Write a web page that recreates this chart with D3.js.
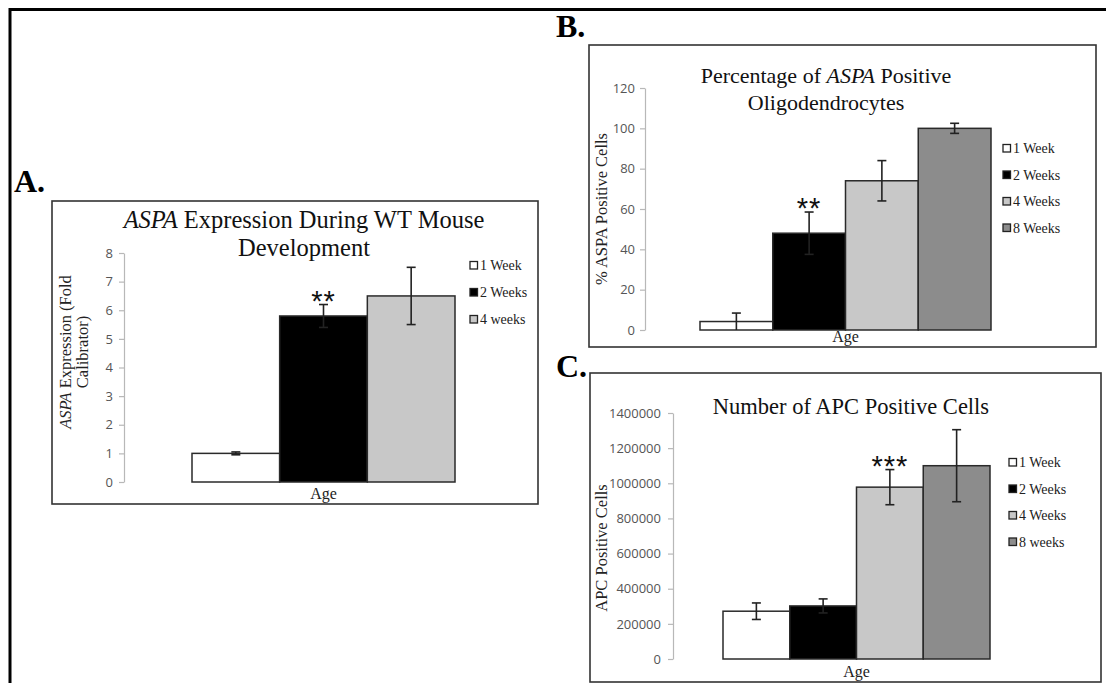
<!DOCTYPE html>
<html>
<head>
<meta charset="utf-8">
<script src="https://cdn.jsdelivr.net/npm/d3@7"></script>
<style>
  body { margin: 0; background: #fff; }
  svg text { font-family: "Liberation Serif", "Times New Roman", serif; }
</style>
</head>
<body>
<div id="my_dataviz"></div>
<script>
// ---- data ----
const weeksA = ["1 Week", "2 Weeks", "4 weeks"]
const valuesA = [1.0, 5.8, 6.5]
const errorsA = [0.05, 0.4, 1.0]
const ticksA = [0, 1, 2, 3, 4, 5, 6, 7, 8]

const weeksB = ["1 Week", "2 Weeks", "4 Weeks", "8 Weeks"]
const valuesB = [4.2, 48, 74, 100]
const errorsB = [4.2, 10.5, 10, 2.5]
const ticksB = [0, 20, 40, 60, 80, 100, 120]

const weeksC = ["1 Week", "2 Weeks", "4 Weeks", "8 weeks"]
const valuesC = [272000, 302000, 978000, 1100000]
const errorsC = [47000, 40000, 100000, 205000]
const ticksC = [0, 200000, 400000, 600000, 800000, 1000000, 1200000, 1400000]

const barFills = ["#ffffff", "#000000", "#c8c8c8", "#8c8c8c"]

const width = 1106, height = 683

const svg = d3.select("#my_dataviz")
  .append("svg")
  .attr("width", width)
  .attr("height", height)

// outer frame (top + left only)
svg.append("path")
  .attr("d", "M10,683 L10,9.5 L1106,9.5")
  .attr("fill", "none")
  .attr("stroke", "#000")
  .attr("stroke-width", 3)

const drawPanel = (p) => {
  // panel letter
  svg.append("text")
    .attr("x", p.letterX).attr("y", p.letterY)
    .attr("font-size", 32).attr("font-weight", "bold")
    .text(p.letter)

  // box
  svg.append("rect")
    .attr("x", p.box[0]).attr("y", p.box[1])
    .attr("width", p.box[2] - p.box[0]).attr("height", p.box[3] - p.box[1])
    .attr("fill", "#fff").attr("stroke", "#333").attr("stroke-width", 1.6)

  // title lines (array of arrays of [text, italic])
  p.title.forEach((line, i) => {
    const t = svg.append("text")
      .attr("x", p.titleX).attr("y", p.titleY + i * p.titleGap)
      .attr("text-anchor", "middle")
      .attr("font-size", p.titleSize)
      .attr("fill", "#111")
    line.forEach(([s, it]) => {
      t.append("tspan").attr("font-style", it ? "italic" : "normal").text(s)
    })
  })

  // scales
  const x = d3.scaleBand()
    .domain(p.weeks)
    .range(p.barRange)
    .padding(0)

  const y = d3.scaleLinear()
    .domain([0, d3.max(p.ticks)])
    .range(p.yRange)

  // y axis
  const ax = svg.append("g")
    .attr("transform", `translate(${p.axisX},0)`)
    .call(d3.axisLeft(y).tickValues(p.ticks).tickSize(5).tickSizeOuter(0).tickPadding(p.tickPad).tickFormat(d3.format("d")))
  ax.select(".domain").attr("stroke", "#b8b8b8").attr("stroke-width", 1.2)
  ax.selectAll(".tick line").attr("stroke", "#b8b8b8").attr("stroke-width", 1.2)
  ax.selectAll(".tick text")
    .attr("fill", "#555")
    .style("font-family", "'Open Sans', 'Liberation Sans', sans-serif")
    .style("font-size", p.tickSize + "px")

  // y axis title
  p.yTitle.forEach((line, i) => {
    const t = svg.append("text")
      .attr("transform", `translate(${p.yTitleX + i * 17},${p.yTitleY}) rotate(-90)`)
      .attr("text-anchor", "middle")
      .attr("font-size", 16.5)
      .attr("fill", "#222")
    line.forEach(([s, it]) => {
      t.append("tspan").attr("font-style", it ? "italic" : "normal").text(s)
    })
  })

  // bars
  svg.append("g").selectAll("rect")
    .data(p.values)
    .join("rect")
    .attr("x", (d, i) => x(p.weeks[i]))
    .attr("y", d => y(d))
    .attr("width", x.bandwidth())
    .attr("height", d => y(0) - y(d))
    .attr("fill", (d, i) => barFills[i])
    .attr("stroke", "#2a2a2a")
    .attr("stroke-width", 1.5)

  // error bars
  const eg = svg.append("g").attr("stroke", "#222").attr("stroke-width", 1.6)
  p.values.forEach((v, i) => {
    const cx = x(p.weeks[i]) + x.bandwidth() / 2
    const hi = y(v + p.errors[i]), lo = y(Math.max(0, v - p.errors[i]))
    eg.append("line").attr("x1", cx).attr("x2", cx).attr("y1", hi).attr("y2", lo)
    eg.append("line").attr("x1", cx - 4.5).attr("x2", cx + 4.5).attr("y1", hi).attr("y2", hi)
    if (v - p.errors[i] > 0)
      eg.append("line").attr("x1", cx - 4.5).attr("x2", cx + 4.5).attr("y1", lo).attr("y2", lo)
  })

  // significance stars
  const si = p.starIndex
  svg.append("text")
    .attr("x", x(p.weeks[si]) + x.bandwidth() / 2)
    .attr("y", y(p.values[si] + p.errors[si]) + 6)
    .attr("text-anchor", "middle")
    .attr("font-size", 29)
    .attr("letter-spacing", 1)
    .style("font-family", "'Liberation Sans', sans-serif")
    .attr("fill", "#111")
    .text(p.stars)

  // x axis title
  svg.append("text")
    .attr("x", (p.barRange[0] + p.barRange[1]) / 2)
    .attr("y", p.ageY)
    .attr("text-anchor", "middle")
    .attr("font-size", 16)
    .attr("fill", "#222")
    .text("Age")

  // legend
  p.weeks.forEach((w, i) => {
    const ly = p.legendY + i * p.legendGap
    svg.append("rect")
      .attr("x", p.legendX).attr("y", ly - 8.5)
      .attr("width", 7.5).attr("height", 7.5)
      .attr("fill", barFills[i]).attr("stroke", "#222").attr("stroke-width", 1.3)
    svg.append("text")
      .attr("x", p.legendX + 10).attr("y", ly)
      .attr("font-size", 14).attr("fill", "#222")
      .text(w)
  })
}

drawPanel({
  letter: "A.", letterX: 14, letterY: 192,
  box: [52, 201, 538, 504],
  title: [[["ASPA", true], [" Expression During WT Mouse", false]], [["Development", false]]],
  titleX: 304, titleY: 228, titleGap: 28, titleSize: 24.5,
  weeks: weeksA, values: valuesA, errors: errorsA, ticks: ticksA,
  barRange: [192, 455], yRange: [482, 253], axisX: 124, tickPad: 6, tickSize: 13,
  yTitle: [[["ASPA", true], [" Expression (Fold", false]], [["Calibrator)", false]]],
  yTitleX: 71, yTitleY: 352,
  starIndex: 1, stars: "**",
  ageY: 499,
  legendX: 470, legendY: 270, legendGap: 27
})

drawPanel({
  letter: "B.", letterX: 556, letterY: 37,
  box: [589, 45, 1096, 347],
  title: [[["Percentage of ", false], ["ASPA", true], [" Positive", false]], [["Oligodendrocytes", false]]],
  titleX: 826, titleY: 83, titleGap: 27, titleSize: 22,
  weeks: weeksB, values: valuesB, errors: errorsB, ticks: ticksB,
  barRange: [700, 991], yRange: [330, 88], axisX: 645, tickPad: 5, tickSize: 13,
  yTitle: [[["% ASPA Positive Cells", false]]],
  yTitleX: 607, yTitleY: 209,
  starIndex: 1, stars: "**",
  ageY: 342,
  legendX: 1003, legendY: 153, legendGap: 26.5
})

drawPanel({
  letter: "C.", letterX: 556, letterY: 377,
  box: [590, 373, 1101, 682],
  title: [[["Number of APC Positive Cells", false]]],
  titleX: 851, titleY: 414, titleGap: 0, titleSize: 22.5,
  weeks: weeksC, values: valuesC, errors: errorsC, ticks: ticksC,
  barRange: [723, 990], yRange: [659, 413], axisX: 673, tickPad: 7, tickSize: 13,
  yTitle: [[["APC Positive Cells", false]]],
  yTitleX: 607, yTitleY: 548,
  starIndex: 2, stars: "***",
  ageY: 677,
  legendX: 1009, legendY: 467, legendGap: 26.5
})
</script>
</body>
</html>
